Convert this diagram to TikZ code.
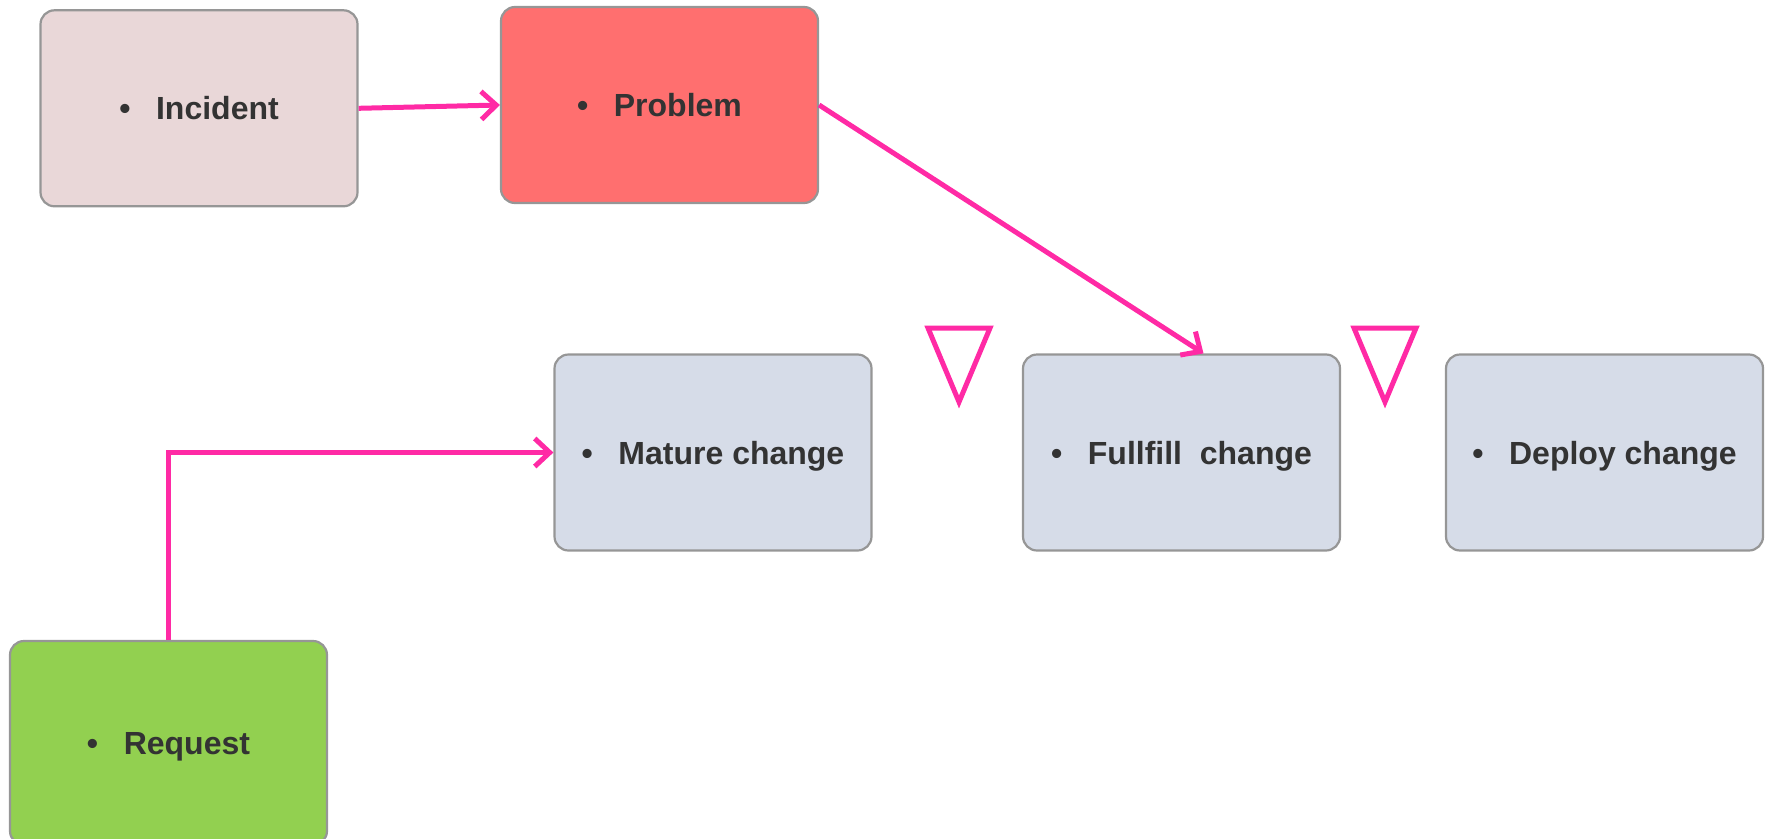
\documentclass[tikz,border=0pt]{standalone}
\usepackage{fontspec}
\setmainfont{Liberation Sans}
\usetikzlibrary{arrows.meta,calc}
\definecolor{incfill}{HTML}{E9D7D8}
\definecolor{probfill}{HTML}{FF6F6F}
\definecolor{chgfill}{HTML}{D6DCE8}
\definecolor{reqfill}{HTML}{92D050}
\definecolor{boxline}{HTML}{969696}
\definecolor{linkpink}{HTML}{FF2AA5}
\definecolor{txt}{HTML}{333333}
\tikzset{
  stepbox/.style={rectangle, rounded corners=14pt, draw=boxline, line width=2.2pt,
    minimum width=317pt, minimum height=196pt, inner sep=0pt,
    text height=23pt, text depth=0pt,
    font=\fontsize{32}{36}\selectfont\bfseries, text=txt},
  link/.style={draw=linkpink, line width=5pt,
    -{Straight Barb[length=15pt,width=28pt,line width=5pt]}},
  marker/.style={draw=linkpink, line width=5pt, line join=miter}
}
\newcommand{\bulleted}[1]{\textbullet\hspace{0.8em}#1}
\begin{document}
\begin{tikzpicture}[x=1pt,y=-1pt]
  \useasboundingbox (0,0) rectangle (1769,838);
  % top row
  \node[stepbox, fill=incfill]  (inc)  at (199,108.3) {\bulleted{Incident}};
  \node[stepbox, fill=probfill] (prob) at (659.5,105) {\bulleted{Problem}};
  % change pipeline
  \node[stepbox, fill=chgfill]  (mat)  at (713,452.5) {\bulleted{Mature change}};
  \node[stepbox, fill=chgfill]  (ful)  at (1181.5,452.5) {\bulleted{Fullfill\ \ change}};
  \node[stepbox, fill=chgfill]  (dep)  at (1604.5,452.5) {\bulleted{Deploy change}};
  % request
  \node[stepbox, fill=reqfill, minimum height=204pt] (req) at (168.5,743) {\bulleted{Request}};
  % connectors
  \draw[link] (inc.east) -- (prob.west);
  \draw[link] (prob.east) -- ($(ful.north)+(22,0)$);
  \draw[link] (req.north) |- (mat.west);
  % gate markers between the change stages
  \draw[marker] (928,328) -- (990,328) -- (959,402) -- cycle;
  \draw[marker] (1354,328) -- (1416,328) -- (1385,402) -- cycle;
\end{tikzpicture}
\end{document}
